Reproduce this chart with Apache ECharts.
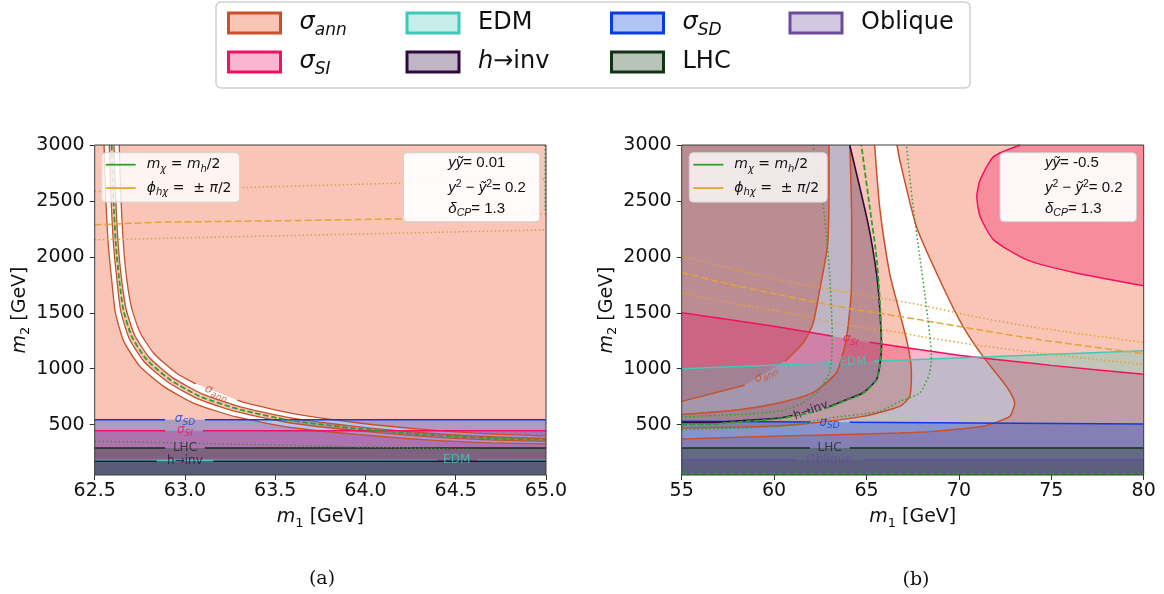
<!DOCTYPE html>
<html>
<head>
<meta charset="utf-8">
<title>m1 - m2 exclusion plane</title>
<script src="https://cdn.jsdelivr.net/npm/echarts@6.0.0/dist/echarts.min.js"></script>
<style>
  html, body { margin: 0; padding: 0; background: #fff; }
  #main { width: 1164px; height: 594px; }
</style>
</head>
<body>
<div id="main"></div>
<script>
// break marker inside a drawn line (gap where a contour label sits)
var G = ['-', '-'];

var Y0 = 50, Y1 = 3000;
var m2Ticks = [500, 1000, 1500, 2000, 2500, 3000];

// ---------- panel (a): m1 62.5 .. 65 ----------
var aAnn1 = [[62.552,3000],[62.561,2539],[62.576,2092],[62.594,1795],[62.614,1507],[62.66,1249],[62.748,1026],[62.882,842],[63.053,688],[63.285,569],[63.572,477],[63.952,413],[64.32,366],[64.69,338],[65,328]];
var aAnn2 = [[62.581,3000],[62.59,2539],[62.605,2092],[62.623,1795],[62.644,1520],[62.69,1275],[62.774,1062],[62.905,881],[63.072,730],[63.298,611],[63.578,517],[63.952,447],[64.32,396],[64.69,364],[65,351]];
var aAnn3 = [[62.607,3000],[62.616,2539],[62.631,2092],[62.649,1795],[62.674,1534],[62.72,1303],[62.802,1100],[62.929,923],[63.094,776],[63.312,657],[63.586,561],[63.952,483],[64.32,428],[64.69,392],[65,377]];
var aAnn4 = [[62.636,3000],[62.645,2539],[62.66,2092],[62.678,1795],[62.704,1547],[62.75,1329],[62.828,1136],[62.952,962],[63.06,865],G,[63.29,719],[63.325,699],[63.592,601],[63.952,517],[64.32,458],[64.69,418],[65,400]];
var aMchi = [[62.594,3000],[62.603,2539],[62.618,2092],[62.636,1795],[62.659,1527],[62.705,1289],[62.788,1081],[62.917,902],[63.083,753],[63.305,634],[63.582,539],[63.952,465],[64.32,412],[64.69,378],[65,364]];
var aMchiDot = [[62.5,352],[63.5,318],[64.5,282],[65,262]];
var aMchiEdge = [[64.996,3000],[64.996,2420]];
var aPhiHi = [[62.5,2583],[65,2695]];
var aPhiMid = [[62.5,2286],[62.85,2310],[63.5,2322],[64.4,2345],[64.45,2365],[65,2384]];
var aPhiLo = [[62.5,2152],[65,2241]];
var aSD = [[62.5,545],[62.89,545],G,[63.11,545],[65,545]];
var aSI = [[62.5,446],[62.89,446],G,[63.1,446],[65,446]];
var aLHC = [[62.5,292],[62.89,292],G,[63.11,292],[65,292]];
var aEDM = [[62.5,181],[64.395,181],G,[64.616,181],[65,181]];
var aHinv = [[62.5,173],[62.843,173],G,[63.157,173],[65,173]];
var aInfo = ['0.01', '0.2', '1.3'];

// ---------- panel (b): m1 55 .. 80 ----------
var bAnnA = [[55,708],[58.4,852],G,[60.6,1068],[61.56,1229],[62.1,1400],[62.47,1705],[62.8,2000],[62.92,2152],[62.97,2600],[62.97,3000]];
var bAnnB = [[55,590],[58,630],[60.3,696],[62.1,786],[63.37,964],[63.9,1259],[64.18,1705],[64.2,2300],[64.1,3000]];
var bAnnC = [[55,470],[58,478],[60.3,490],[62.1,515],[64.81,574],[66.8,663],[67.34,753],[67.43,961],[67.25,1199],[66.8,1497],[66.25,1854],[65.71,2449],[65.44,3000]];
var bAnnD = [[55,372],[61,400],[66.8,426],[68.6,440],[71.3,485],[72.75,574],[73.02,694],[72.57,842],[71.3,1110],[70.22,1378],[68.96,1795],[67.7,2271],[66.8,2866],[66.65,3000]];
var bHinv = [[55,520],[56.7,520],[58.5,540],[60.3,560],[61.0,582],G,[63.0,663],[63.9,723],[64.8,783],[65.54,902],[65.71,1021],[65.81,1199],[65.71,1556],[65.54,1854],[65.08,2301],[64.09,3000]];
var bMchi = [[55,500],[56.7,506],[58.5,530],[60.3,553],[61.2,582],[62.1,614],[63.0,658],[63.9,718],[64.8,778],[65.54,897],[65.71,1021],[65.81,1259],[65.71,1646],[65.54,2003],[65.17,2449],[64.72,3000]];
var bMchiLo = [[55,60],[80,60]];
var bDotL = [[55,570],[58,590],[60.3,620],[61.5,690],[62.3,786],[63.0,964],[63.15,1260],[63.0,1860],[62.7,2400],[62.1,3000]];
var bDotR = [[55,455],[60.3,485],[63.0,560],[65.71,619],[66.8,708],[67.88,783],[68.42,961],[68.51,1110],[68.24,1556],[67.88,2003],[67.52,2449],[67.16,3000]];
var bPhiHi = [[55,2009],[57.5,1900],[60.3,1795],[64,1680],[67.9,1571],[71,1460],[74.4,1363],[80,1235]];
var bPhiMid = [[55,1860],[57.5,1760],[60.3,1661],[64,1540],[66.8,1467],[67.9,1437],[71,1350],[74.4,1259],[80,1134]];
var bPhiLo = [[55,1681],[57.5,1590],[60.3,1512],[64,1390],[66.8,1324],[67.9,1290],[71,1210],[74.4,1140],[80,1036]];
var bSI = [[55,1500],[60,1380],[63.19,1291],G,[65.17,1236],[70,1120],[75,1030],[80,950]];
var bSIarc = [[73.32,3000],[71.88,2896],[71.15,2688],[70.97,2539],[71.15,2360],[71.88,2152],[73.68,1973],[76.39,1854],[80,1741]];
var bEDM = [[55,1000],[63.19,1053],G,[65.35,1067],[80,1161]];
var bSD = [[55,530],[61.93,523],G,[64.09,521],[80,506]];
var bLHC = [[55,292],[61.93,292],G,[64.09,292],[80,292]];
var bObl = [[55,187],[61.12,187],G,[64.9,187],[80,187]];
var bInfo = ['-0.5', '0.2', '1.3'];

// colours
var C = {
  ann: {line: '#c8502a', fill: 'rgba(235,85,45,0.34)'},
  si:  {line: '#f5105f', fill: 'rgba(245,10,100,0.3)'},
  edm: {line: '#40c8b8', fill: 'rgba(64,200,184,0.3)'},
  hinv:{line: '#2e0a40', fill: 'rgba(45,10,60,0.3)'},
  sd:  {line: '#0a3ce6', fill: 'rgba(0,60,220,0.3)'},
  lhc: {line: '#143214', fill: 'rgba(20,60,20,0.3)'},
  obl: {line: '#6a4c9c', fill: 'rgba(106,76,156,0.3)'}
};
var green = '#2ca02c', orange = '#e3a432';

function pts(line) {
  return line.filter(function (p) { return p[0] !== '-'; });
}
function rev(line) { return pts(line).slice().reverse(); }
function below(line) {
  var p = pts(line);
  return p.concat([[p[p.length - 1][0], Y0], [p[0][0], Y0]]);
}

function area(name, gi, polys, fill) {
  return {
    type: 'custom', name: name, xAxisIndex: gi, yAxisIndex: gi, z: 1,
    silent: true, animation: false,
    itemStyle: {color: fill},
    data: polys.map(function (p) { return p[0]; }),
    renderItem: function (params, api) {
      var poly = polys[params.dataIndex];
      return {
        type: 'polygon',
        shape: {points: poly.map(function (p) { return api.coord(p); })},
        style: {fill: fill}
      };
    }
  };
}

function curve(name, gi, data, color, type, width, smooth) {
  return {
    type: 'line', name: name, xAxisIndex: gi, yAxisIndex: gi, z: 2,
    data: data, symbol: 'none', silent: true, animation: false,
    smooth: smooth || false, connectNulls: false,
    itemStyle: {color: color},
    lineStyle: {color: color, width: width || 1.5, type: type || 'solid'}
  };
}

var tagRich = {
  g: {fontStyle: 'italic', fontSize: 12},
  s: {fontStyle: 'italic', fontSize: 9, padding: [7, 0, 0, 0]}
};
function tags(gi, list) {
  return {
    type: 'scatter', xAxisIndex: gi, yAxisIndex: gi, z: 3, symbolSize: 0,
    silent: true, animation: false,
    data: list.map(function (t) {
      return {
        value: t.at,
        label: {
          show: true, position: 'inside', formatter: t.text, color: t.color,
          rotate: t.rot || 0, fontSize: 12, fontFamily: 'DejaVu Sans', rich: tagRich
        }
      };
    })
  };
}

var axisRich = {
  i: {fontStyle: 'italic', fontSize: 19},
  s: {fontSize: 13, padding: [12, 0, 0, 0]}
};
function xAxis(gi, min, max, step, dec) {
  return {
    type: 'value', gridIndex: gi, min: min, max: max, interval: step,
    name: '{i|m}{s|1} [GeV]', nameLocation: 'middle', nameGap: 30,
    nameTextStyle: {color: '#111', fontSize: 19, rich: axisRich},
    axisLine: {show: false}, splitLine: {show: false},
    axisTick: {show: true, length: 5, lineStyle: {color: '#333'}},
    axisLabel: {color: '#111', fontSize: 19, margin: 7,
      formatter: function (v) { return v.toFixed(dec); }}
  };
}
function yAxis(gi) {
  return {
    type: 'value', gridIndex: gi, min: Y0, max: Y1,
    name: '{i|m}{s|2} [GeV]', nameLocation: 'middle', nameGap: 53,
    nameTextStyle: {color: '#111', fontSize: 19, rich: axisRich},
    axisLine: {show: false}, splitLine: {show: false},
    axisTick: {show: true, length: 5, lineStyle: {color: '#333'}, customValues: m2Ticks},
    axisLabel: {color: '#111', fontSize: 19, margin: 10, customValues: m2Ticks,
      formatter: function (v) { return String(v); }}
  };
}

// main legend (outside the plots)
var legRich = {
  g: {fontStyle: 'italic', fontSize: 24},
  s: {fontStyle: 'italic', fontSize: 17, padding: [15, 0, 0, 0]}
};
var legText = {
  ann: '{g|σ}{s|ann}', si: '{g|σ}{s|SI}', edm: 'EDM', hinv: '{g|h}→inv',
  sd: '{g|σ}{s|SD}', lhc: 'LHC', obl: 'Oblique'
};
function bigLegend(key, left, top) {
  return {
    data: [{name: key, icon: 'rect',
      itemStyle: {color: C[key].fill, borderColor: C[key].line, borderWidth: 3}}],
    left: left, top: top, padding: 0, itemWidth: 52, itemHeight: 20,
    selectedMode: false, z: 5,
    formatter: function (n) { return legText[n]; },
    textStyle: {fontSize: 24, color: '#111', lineHeight: 30, padding: [0, 0, 0, 14], rich: legRich}
  };
}

// inner legend (meaning of the green and orange lines)
var smallRich = {
  g: {fontStyle: 'italic', fontSize: 14},
  s: {fontStyle: 'italic', fontSize: 10, padding: [9, 0, 0, 0]}
};
function lineLegend(left) {
  return {
    data: [{name: 'mchi', icon: 'rect', itemStyle: {color: green, borderWidth: 0}},
           {name: 'phi', icon: 'rect', itemStyle: {color: orange, borderWidth: 0}}],
    orient: 'vertical', left: left, top: 152.7,
    padding: [2, 8, 4, 4], itemGap: 3.4, itemWidth: 30, itemHeight: 1.8,
    backgroundColor: 'rgba(255,255,255,0.8)', borderColor: '#d6d6d6', borderWidth: 1,
    borderRadius: 4, selectedMode: false, z: 5,
    formatter: function (n) {
      return n === 'mchi' ? '{g|m}{s|χ} = {g|m}{s|h}/2' : '{g|ϕ}{s|hχ} =  ± {g|π}/2';
    },
    textStyle: {fontSize: 14, color: '#111', lineHeight: 20, padding: [0, 0, 0, 6], rich: smallRich}
  };
}

// parameter box
var infoRich = {
  i: {fontStyle: 'italic', fontSize: 15, fill: '#111'},
  n: {fontSize: 15, fill: '#111'},
  p: {fontSize: 10.5, fill: '#111', padding: [0, 0, 9, 0]},
  s: {fontStyle: 'italic', fontSize: 10.5, fill: '#111', padding: [9, 0, 0, 0]}
};
function infoBox(x, tx, vals) {
  var lines = [
    '{i|yỹ}{n|= ' + vals[0] + '}',
    '{i|y}{p|2}{n| − }{i|ỹ}{p|2}{n|= ' + vals[1] + '}',
    '{i|δ}{s|CP}{n|= ' + vals[2] + '}'
  ];
  var ys = [163.3, 188.3, 209];
  var out = [{
    type: 'rect', z: 50, silent: true,
    shape: {x: x, y: 152.7, width: 136.5, height: 69, r: 4},
    style: {fill: 'rgba(255,255,255,0.92)', stroke: '#d0d0d0', lineWidth: 1}
  }];
  lines.forEach(function (t, k) {
    out.push({
      type: 'text', z: 51, silent: true, x: tx, y: ys[k],
      style: {text: t, rich: infoRich, fontSize: 15, fontFamily: 'DejaVu Sans',
        fill: '#111', verticalAlign: 'middle', align: 'left'}
    });
  });
  return out;
}

var series = [
  // ----- panel (a) regions -----
  area('ann', 0, [pts(aAnn1).concat([[65, Y0], [62.5, Y0], [62.5, Y1]]),
                  pts(aAnn2).concat(rev(aAnn3)),
                  pts(aAnn4).concat([[65, Y1]])], C.ann.fill),
  area('si', 0, [below(aSI)], C.si.fill),
  area('sd', 0, [below(aSD)], C.sd.fill),
  area('lhc', 0, [below(aLHC)], C.lhc.fill),
  area('edm', 0, [below(aEDM)], C.edm.fill),
  area('hinv', 0, [below(aHinv)], C.hinv.fill),
  // ----- panel (b) regions -----
  area('ann', 1, [pts(bAnnA).concat([[55, Y1]]),
                  pts(bAnnB).concat(rev(bAnnC)),
                  pts(bAnnD).concat([[80, Y1], [80, Y0], [55, Y0]])], C.ann.fill),
  area('hinv', 1, [pts(bHinv).concat([[55, Y1]])], C.hinv.fill),
  area('si', 1, [below(bSI), pts(bSIarc).concat([[80, Y1]])], C.si.fill),
  area('edm', 1, [below(bEDM)], C.edm.fill),
  area('sd', 1, [below(bSD)], C.sd.fill),
  area('obl', 1, [below(bObl)], C.obl.fill),
  area('lhc', 1, [below(bLHC)], C.lhc.fill),

  // ----- panel (a) lines -----
  curve('a1', 0, aAnn1, C.ann.line, 'solid', 1.3, 0.2),
  curve('a2', 0, aAnn2, C.ann.line, 'solid', 1.3, 0.2),
  curve('a3', 0, aAnn3, C.ann.line, 'solid', 1.3, 0.2),
  curve('a4', 0, aAnn4, C.ann.line, 'solid', 1.3, 0.2),
  curve('asd', 0, aSD, C.sd.line),
  curve('asi', 0, aSI, C.si.line),
  curve('alhc', 0, aLHC, C.lhc.line),
  curve('aedm', 0, aEDM, C.edm.line),
  curve('ahinv', 0, aHinv, C.hinv.line),
  curve('phi', 0, aPhiMid, orange, [7, 3], 1.5),
  curve('aphi1', 0, aPhiHi, orange, [1.5, 2.5], 1.5),
  curve('aphi2', 0, aPhiLo, orange, [1.5, 2.5], 1.5),
  curve('mchi', 0, aMchi, green, [5.5, 2.5], 1.8, 0.2),
  curve('adot1', 0, aMchiDot, green, [1.5, 2.5], 1.5),
  curve('adot2', 0, aMchiEdge, green, [1.5, 2.5], 1.5),

  // ----- panel (b) lines -----
  curve('bA', 1, bAnnA, C.ann.line, 'solid', 1.5, 0.2),
  curve('bB', 1, bAnnB, C.ann.line, 'solid', 1.5, 0.2),
  curve('bC', 1, bAnnC, C.ann.line, 'solid', 1.5, 0.2),
  curve('bD', 1, bAnnD, C.ann.line, 'solid', 1.5, 0.2),
  curve('bsi', 1, bSI, C.si.line, 'solid', 1.5, 0.2),
  curve('bsiarc', 1, bSIarc, C.si.line, 'solid', 1.5, 0.2),
  curve('bedm', 1, bEDM, C.edm.line),
  curve('bsd', 1, bSD, C.sd.line),
  curve('blhc', 1, bLHC, C.lhc.line),
  curve('bobl', 1, bObl, C.obl.line),
  curve('bhinv', 1, bHinv, C.hinv.line, 'solid', 1.6, 0.2),
  curve('phi', 1, bPhiMid, orange, [7, 3], 1.5, 0.2),
  curve('bphi1', 1, bPhiHi, orange, [1.5, 2.5], 1.5, 0.2),
  curve('bphi2', 1, bPhiLo, orange, [1.5, 2.5], 1.5, 0.2),
  curve('mchi', 1, bMchi, green, [5.5, 2.5], 1.8, 0.2),
  curve('bmlo', 1, bMchiLo, green, [5.5, 2.5], 1.5),
  curve('bdotl', 1, bDotL, green, [1.5, 2.5], 1.5, 0.2),
  curve('bdotr', 1, bDotR, green, [1.5, 2.5], 1.5, 0.2),

  // ----- contour labels -----
  tags(0, [
    {at: [63.175, 786], text: '{g|σ}{s|ann}', color: C.ann.line, rot: -22},
    {at: [63.0, 548], text: '{g|σ}{s|SD}', color: C.sd.line},
    {at: [63.0, 449], text: '{g|σ}{s|SI}', color: C.si.line},
    {at: [63.0, 292], text: 'LHC', color: '#1e2a1e'},
    {at: [63.0, 174], text: 'h→inv', color: C.hinv.line},
    {at: [64.505, 183], text: 'EDM', color: C.edm.line}
  ]),
  tags(1, [
    {at: [59.55, 950], text: '{g|σ}{s|ann}', color: C.ann.line, rot: 28},
    {at: [64.15, 1268], text: '{g|σ}{s|SI}', color: C.si.line, rot: -7},
    {at: [64.27, 1062], text: 'EDM', color: C.edm.line, rot: 2},
    {at: [62.0, 628], text: 'h→inv', color: C.hinv.line, rot: 20},
    {at: [63.0, 520], text: '{g|σ}{s|SD}', color: C.sd.line},
    {at: [63.0, 294], text: 'LHC', color: '#1e2a1e'},
    {at: [63.0, 189], text: 'Oblique', color: C.obl.line}
  ])
];

var chart = echarts.init(document.getElementById('main'), null, {renderer: 'canvas'});
chart.setOption({
  animation: false,
  backgroundColor: '#ffffff',
  textStyle: {fontFamily: 'DejaVu Sans'},
  grid: [
    {left: 94.7, top: 145, width: 451.3, height: 330, show: true, z: 10,
     backgroundColor: 'transparent', borderColor: '#3c3c3c', borderWidth: 1},
    {left: 681.7, top: 145, width: 462, height: 330, show: true, z: 10,
     backgroundColor: 'transparent', borderColor: '#3c3c3c', borderWidth: 1}
  ],
  xAxis: [xAxis(0, 62.5, 65, 0.5, 1), xAxis(1, 55, 80, 5, 0)],
  yAxis: [yAxis(0), yAxis(1)],
  title: [
    {text: '(a)', left: 317, top: 565, textAlign: 'center',
     textStyle: {fontFamily: 'DejaVu Serif', fontSize: 19, fontWeight: 'normal', color: '#111'}},
    {text: '(b)', left: 911, top: 566, textAlign: 'center',
     textStyle: {fontFamily: 'DejaVu Serif', fontSize: 19, fontWeight: 'normal', color: '#111'}}
  ],
  legend: [
    bigLegend('ann', 227, 8), bigLegend('si', 227, 47),
    bigLegend('edm', 405.5, 8), bigLegend('hinv', 405.5, 47),
    bigLegend('sd', 610, 8), bigLegend('lhc', 610, 47),
    bigLegend('obl', 788.5, 8),
    lineLegend(101.7), lineLegend(689.3)
  ],
  graphic: [
    {type: 'rect', z: 0, silent: true,
     shape: {x: 216, y: 2, width: 754, height: 86, r: 5},
     style: {fill: '#ffffff', stroke: '#cfcfcf', lineWidth: 1.5}}
  ].concat(infoBox(403.3, 448.3, aInfo), infoBox(1000, 1045, bInfo)),
  series: series
});
</script>
</body>
</html>
